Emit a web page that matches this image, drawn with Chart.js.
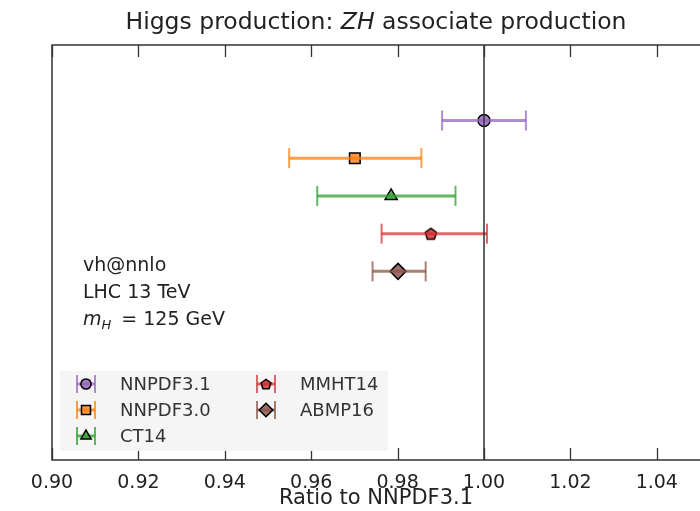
<!DOCTYPE html>
<html>
<head>
<meta charset="utf-8">
<script src="https://cdn.jsdelivr.net/npm/chart.js@4.4.0/dist/chart.umd.min.js"></script>
<style>
  html, body { margin: 0; padding: 0; background: #fff; }
  #wrap { width: 700px; height: 511px; }
</style>
</head>
<body>
<div id="wrap"><canvas id="chart"></canvas></div>
<script>
// values
const pdfNames = ['NNPDF3.1', 'NNPDF3.0', 'CT14', 'MMHT14', 'ABMP16'];
const centralValues = [1.0000, 0.9701, 0.9785, 0.9877, 0.9801];
const lowerValues = [0.9903, 0.9549, 0.9614, 0.9763, 0.9742];
const upperValues = [1.0097, 0.9855, 0.9934, 1.0007, 0.9865];
const xTicks = [0.90, 0.92, 0.94, 0.96, 0.98, 1.00, 1.02, 1.04];
const refValue = 1.0;

const barColors = ['rgba(148,103,189,0.75)', 'rgba(255,127,14,0.75)', 'rgba(44,160,44,0.75)', 'rgba(214,39,40,0.7)', 'rgba(140,86,75,0.75)'];
const fillColors = ['rgba(148,103,189,0.85)', 'rgba(255,127,14,0.8)', 'rgba(44,160,44,0.8)', 'rgba(214,39,40,0.8)', 'rgba(140,86,75,0.85)'];
const FONT = '"DejaVu Sans", sans-serif';

// chart.js has no pentagon, so build one as an image
function pentagon(fill, r) {
    var c = document.createElement('canvas');
    c.width = 16; c.height = 16;
    var g = c.getContext('2d');
    g.beginPath();
    for (var k = 0; k < 5; k++) {
        var a = -Math.PI / 2 + k * 2 * Math.PI / 5;
        var px = 8 + r * Math.cos(a), py = 8.6 + r * Math.sin(a);
        if (k == 0) g.moveTo(px, py); else g.lineTo(px, py);
    }
    g.closePath();
    g.fillStyle = fill;
    g.fill();
    g.lineWidth = 1.5;
    g.strokeStyle = '#000';
    g.stroke();
    return c;
}

const markerStyles = ['circle', 'rect', 'triangle', pentagon(fillColors[3], 6), 'rectRot'];
const legendStyles = ['circle', 'rect', 'triangle', pentagon(fillColors[3], 5.2), 'rectRot'];
const markerSizes = [6, 7.5, 7, 6, 8];

var datasets = [];

// reference line at 1
datasets.push({
    data: [{x: refValue, y: -2}, {x: refValue, y: 9}],
    borderColor: '#333',
    borderWidth: 1.5,
    pointRadius: 0,
    showLine: true
});

pdfNames.forEach(function (name, i) {
    datasets.push({
        data: [{x: lowerValues[i], y: i}, {x: upperValues[i], y: i}],
        borderColor: barColors[i],
        borderWidth: 3,
        showLine: true,
        pointStyle: 'line',
        pointRotation: 90,
        pointRadius: 10,
        pointBorderWidth: 2,
        pointBorderColor: barColors[i]
    });
});

pdfNames.forEach(function (name, i) {
    datasets.push({
        label: name,
        data: [{x: centralValues[i], y: i}],
        pointStyle: markerStyles[i],
        pointRadius: markerSizes[i],
        pointBackgroundColor: fillColors[i],
        pointBorderColor: '#000',
        pointBorderWidth: 1.5
    });
});

var decorations = {
    id: 'decorations',
    beforeDatasetsDraw: function (chart) {
        var ctx = chart.ctx, a = chart.chartArea, x = chart.scales.x;
        ctx.save();
        ctx.strokeStyle = '#333';
        ctx.lineWidth = 1.3;
        xTicks.forEach(function (v) {
            var px = Math.round(x.getPixelForValue(v)) + 0.5;
            ctx.beginPath();
            ctx.moveTo(px, a.bottom); ctx.lineTo(px, a.bottom - 12);
            ctx.moveTo(px, a.top); ctx.lineTo(px, a.top + 12);
            ctx.stroke();
        });
        ctx.restore();
    },
    afterDatasetsDraw: function (chart) {
        var ctx = chart.ctx, a = chart.chartArea;
        ctx.save();

        // frame
        ctx.strokeStyle = '#333';
        ctx.lineWidth = 1.5;
        ctx.beginPath();
        ctx.moveTo(a.right + 2, a.top);
        ctx.lineTo(a.left, a.top);
        ctx.lineTo(a.left, a.bottom);
        ctx.lineTo(a.right + 2, a.bottom);
        ctx.stroke();

        // legend box
        ctx.fillStyle = 'rgba(244,244,244,0.95)';
        ctx.fillRect(60, 371, 328, 80);
        var slots = [[86, 384], [86, 410], [86, 436], [266, 384], [266, 410]];
        ctx.font = '18px ' + FONT;
        ctx.textBaseline = 'middle';
        pdfNames.forEach(function (name, i) {
            var sx = slots[i][0], sy = slots[i][1];
            ctx.strokeStyle = barColors[i];
            ctx.lineWidth = 3;
            ctx.beginPath();
            ctx.moveTo(sx - 9, sy); ctx.lineTo(sx + 9, sy);
            ctx.stroke();
            ctx.lineWidth = 2;
            ctx.beginPath();
            ctx.moveTo(sx - 9, sy - 9); ctx.lineTo(sx - 9, sy + 9);
            ctx.moveTo(sx + 9, sy - 9); ctx.lineTo(sx + 9, sy + 9);
            ctx.stroke();
            ctx.fillStyle = fillColors[i];
            ctx.strokeStyle = '#000';
            ctx.lineWidth = 1.5;
            Chart.helpers.drawPoint(ctx, {pointStyle: legendStyles[i], radius: markerSizes[i] * 0.85, borderWidth: 1.5}, sx, sy);
            ctx.fillStyle = '#333';
            ctx.fillText(name, sx + 34, sy + 1);
        });

        // title
        ctx.fillStyle = '#222';
        ctx.textBaseline = 'alphabetic';
        var tf = '23.5px ' + FONT, tfi = 'italic 23.5px ' + FONT;
        ctx.font = tf;
        var t1 = 'Higgs production: ', t2 = 'ZH', t3 = ' associate production';
        var w1 = ctx.measureText(t1).width, w3 = ctx.measureText(t3).width;
        ctx.font = tfi;
        var w2 = ctx.measureText(t2).width;
        var tx = (a.left + a.right) / 2 - (w1 + w2 + w3) / 2;
        ctx.font = tf;
        ctx.fillText(t1, tx, 29);
        ctx.font = tfi;
        ctx.fillText(t2, tx + w1, 29);
        ctx.font = tf;
        ctx.fillText(t3, tx + w1 + w2, 29);

        // process info
        ctx.font = '19px ' + FONT;
        ctx.fillText('vh@nnlo', 83, 271);
        ctx.fillText('LHC 13 TeV', 83, 298);
        ctx.font = 'italic 19px ' + FONT;
        ctx.fillText('m', 83, 325);
        var mw = ctx.measureText('m').width;
        ctx.font = 'italic 13px ' + FONT;
        ctx.fillText('H', 83 + mw, 329);
        var hw = ctx.measureText('H').width;
        ctx.font = '19px ' + FONT;
        ctx.fillText(' = 125 GeV', 83 + mw + hw + 4, 325);

        ctx.restore();
    }
};

var chart = new Chart(document.getElementById('chart'), {
    type: 'scatter',
    data: {datasets: datasets},
    options: {
        responsive: true,
        maintainAspectRatio: false,
        animation: false,
        events: [],
        layout: {autoPadding: false, padding: {left: 52, top: 45, right: 0, bottom: 0}},
        plugins: {legend: {display: false}, tooltip: {enabled: false}},
        scales: {
            x: {
                type: 'linear',
                min: 0.90,
                max: 1.05,
                afterBuildTicks: function (scale) {
                    scale.ticks = xTicks.map(function (v) { return {value: v}; });
                },
                afterFit: function (scale) {
                    scale.height = 51;
                    scale.paddingLeft = 0;
                    scale.paddingRight = 0;
                },
                grid: {display: false},
                border: {display: false},
                ticks: {
                    maxRotation: 0,
                    padding: 4,
                    color: '#222',
                    font: {family: FONT, size: 19},
                    callback: function (v) { return v.toFixed(2); }
                },
                title: {
                    display: true,
                    text: 'Ratio to NNPDF3.1',
                    color: '#222',
                    padding: {top: 3, bottom: 0},
                    font: {family: FONT, size: 21}
                }
            },
            y: {
                type: 'linear',
                display: false,
                reverse: true,
                min: -2,
                max: 9
            }
        }
    },
    plugins: [decorations]
});
</script>
</body>
</html>
